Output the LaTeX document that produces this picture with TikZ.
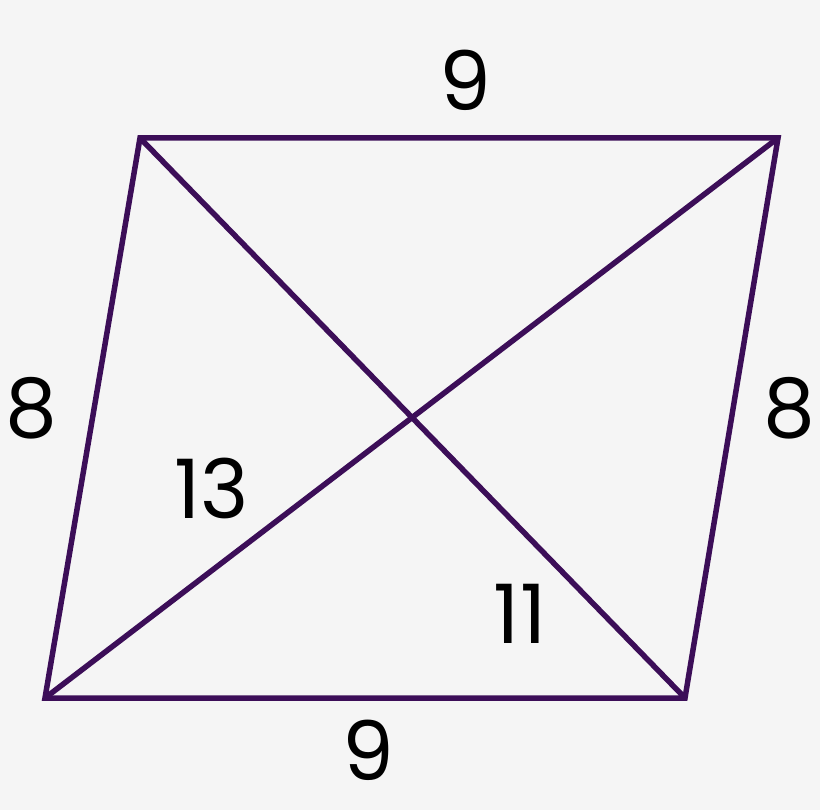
\documentclass[tikz,border=0pt]{standalone}
\usepackage{fontspec}
\setmainfont{Poppins}
\definecolor{bg}{RGB}{245,245,245}
\definecolor{edge}{RGB}{60,14,88}
\begin{document}
\begin{tikzpicture}[x=1pt,y=-1pt,
  side/.style={draw=edge,line width=5.5pt,line join=miter},
  lbl/.style={font=\fontsize{82}{82}\selectfont,text=black,inner sep=0pt}]
\fill[bg] (0,0) rectangle (820,810);
\useasboundingbox (0,0) rectangle (820,810);
\coordinate (TL) at (140,138);
\coordinate (TR) at (778,138);
\coordinate (BR) at (685,698);
\coordinate (BL) at (45,698);
\draw[side] (TL) -- (TR) -- (BR) -- (BL) -- cycle;
\draw[side] (TL) -- (BR);
\draw[side] (BL) -- (TR);
\node[lbl] (top) at (465,80) {9};
\node[lbl] (bot) at (368,750) {9};
\node[lbl] (left) at (31,408) {8};
\node[lbl] (right) at (789,408) {8};
\node[lbl] (d1) at (212,488) {13};
\node[lbl] (d2) at (520,614) {11};
\end{tikzpicture}
\end{document}
